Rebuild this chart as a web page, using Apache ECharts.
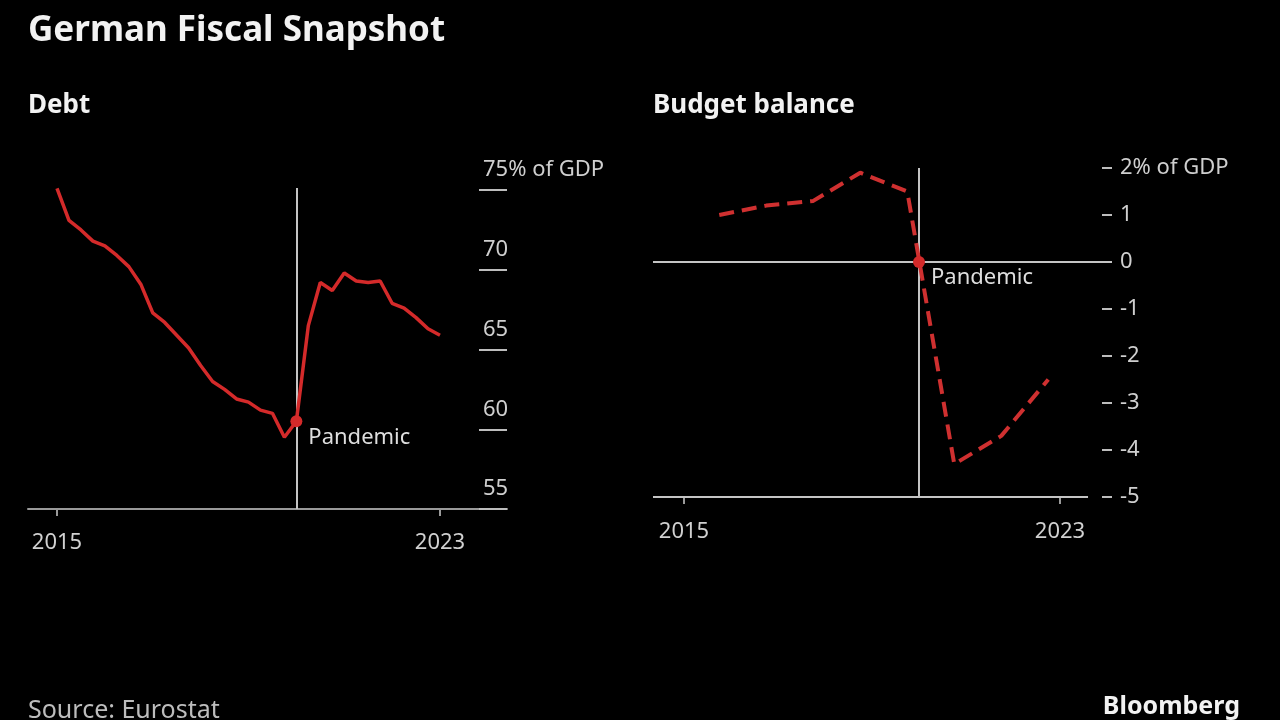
<!DOCTYPE html>
<html lang="en">
<head>
    <meta charset="UTF-8">
    <title>German Fiscal Snapshot</title>
    <script type="text/javascript" src="https://cdn.jsdelivr.net/npm/echarts@6.0.0/dist/echarts.min.js"></script>
    <style>
        html, body { margin: 0; padding: 0; background: #000; }
    </style>
</head>
<body>
<div id="main" style="width: 1280px;height: 720px"></div>

<script>

    // debt, % of GDP, quarterly
    var debtQuarters = ['2015Q1', '2015Q2', '2015Q3', '2015Q4', '2016Q1', '2016Q2', '2016Q3', '2016Q4',
        '2017Q1', '2017Q2', '2017Q3', '2017Q4', '2018Q1', '2018Q2', '2018Q3', '2018Q4',
        '2019Q1', '2019Q2', '2019Q3', '2019Q4', '2020Q1', '2020Q2', '2020Q3', '2020Q4',
        '2021Q1', '2021Q2', '2021Q3', '2021Q4', '2022Q1', '2022Q2', '2022Q3', '2022Q4', '2023Q1'];
    var debtValues = [75.1, 73.1, 72.5, 71.8, 71.5, 70.9, 70.2, 69.1,
        67.3, 66.7, 65.9, 65.1, 64.0, 63.0, 62.5, 61.9,
        61.7, 61.2, 61.0, 59.5, 60.5, 66.5, 69.2, 68.7,
        69.8, 69.3, 69.2, 69.3, 67.9, 67.6, 67.0, 66.3, 65.9];

    // budget balance, % of GDP, annual (plotted at Q4 of each year)
    var budgetYears = [2015, 2016, 2017, 2018, 2019, 2020, 2021, 2022];
    var budgetValues = [1.0, 1.2, 1.3, 1.9, 1.5, -4.3, -3.7, -2.5];

    var yearLabels = [2015, 2023];
    var debtTicks = [55, 60, 65, 70, 75];
    var pandemicYear = 2020;
    var pandemicDebt = 60.5;
    var pandemicBudget = 0;

    function quarterToYear(q) {
        return parseInt(q.slice(0, 4)) + (parseInt(q.slice(5)) - 1) / 4;
    }

    var debtData = debtQuarters.map(function (q, i) {
        return [quarterToYear(q), debtValues[i]];
    });
    var budgetData = budgetYears.map(function (y, i) {
        return [y + 0.75, budgetValues[i]];
    });

    var font = 'Noto Sans';
    var red = '#d42a2a';
    var grey = '#bdbdbd';

    var chartDom = document.getElementById('main');
    var myChart = echarts.init(chartDom);
    var option;

    var pandemicLabel = {
        show: true,
        formatter: 'Pandemic',
        position: 'right',
        distance: 6,
        offset: [0, 16],
        color: '#dedede',
        fontFamily: font,
        fontSize: 22
    };

    function yearFmt(v) { return String(Math.round(v)); }

    option = {
        backgroundColor: '#000',
        animation: false,
        textStyle: { fontFamily: font },
        title: [
            { text: 'German Fiscal Snapshot', left: 28, top: 14, padding: 0,
              textStyle: { color: '#f2f2f2', fontSize: 35, fontWeight: 'bold', fontFamily: font } },
            { text: 'Debt', left: 28, top: 93, padding: 0,
              textStyle: { color: '#f2f2f2', fontSize: 26, fontWeight: 'bold', fontFamily: font } },
            { text: 'Budget balance', left: 653, top: 93, padding: 0,
              textStyle: { color: '#f2f2f2', fontSize: 26, fontWeight: 'bold', fontFamily: font } },
            { text: 'Source: Eurostat', left: 28, top: 698, padding: 0,
              textStyle: { color: grey, fontSize: 25, fontWeight: 'normal', fontFamily: font } },
            { text: 'Bloomberg', right: 40, top: 694, padding: 0,
              textStyle: { color: '#f2f2f2', fontSize: 25, fontWeight: 'bold', fontFamily: font } }
        ],
        grid: [
            { left: 28, right: 773, top: 188, bottom: 211 },
            { left: 653, right: 168, top: 168, bottom: 223 }
        ],
        xAxis: [
            {
                type: 'value', gridIndex: 0,
                min: 2014.394, max: 2024.4,
                splitLine: { show: false },
                axisLine: { show: true, onZero: false, lineStyle: { color: '#9a9a9a', width: 2 } },
                axisTick: { show: true, customValues: yearLabels, length: 7, lineStyle: { color: '#9a9a9a', width: 2 } },
                axisLabel: { customValues: yearLabels, formatter: yearFmt, margin: 23, color: '#d0d0d0', fontSize: 22, fontFamily: font }
            },
            {
                type: 'value', gridIndex: 1,
                min: 2014.34, max: 2024.106,
                splitLine: { show: false },
                axisLine: { show: false, onZero: false },
                axisTick: { show: true, customValues: yearLabels, length: 7, lineStyle: { color: '#9a9a9a', width: 2 } },
                axisLabel: { customValues: yearLabels, formatter: yearFmt, margin: 24, color: '#d0d0d0', fontSize: 22, fontFamily: font }
            }
        ],
        yAxis: [
            {
                type: 'value', gridIndex: 0, position: 'right',
                min: 55, max: 75.13,
                splitLine: { show: false },
                axisLine: { show: false },
                axisTick: { show: true, inside: true, length: 28, customValues: debtTicks,
                            lineStyle: { color: '#bdbdbd', width: 2 } },
                axisLabel: {
                    customValues: debtTicks,
                    margin: -24, align: 'left', verticalAlign: 'bottom', padding: [0, 0, 9, 0],
                    color: '#cfcfcf', fontSize: 22, fontFamily: font,
                    formatter: function (v) { return v === 75 ? '75% of GDP' : String(v); }
                }
            },
            {
                type: 'value', gridIndex: 1, position: 'right',
                min: -5, max: 2, interval: 1,
                splitLine: { show: false },
                axisLine: { show: false },
                axisTick: { show: true, inside: true, length: 10, lineStyle: { color: '#bdbdbd', width: 2 } },
                axisLabel: {
                    margin: 8, color: '#cfcfcf', fontSize: 22, fontFamily: font,
                    formatter: function (v) { return v === 2 ? '2% of GDP' : String(v); }
                }
            }
        ],
        series: [
            {
                name: 'Debt',
                type: 'line',
                xAxisIndex: 0, yAxisIndex: 0,
                data: debtData,
                showSymbol: false,
                clip: false,
                z: 3,
                lineStyle: { color: red, width: 3.5 },
                markLine: {
                    silent: true, symbol: 'none', z: 2,
                    label: { show: false },
                    lineStyle: { color: '#c4c4c4', width: 2, type: 'solid' },
                    data: [{ xAxis: pandemicYear }]
                },
                markPoint: {
                    symbol: 'circle', symbolSize: 12,
                    itemStyle: { color: red },
                    label: pandemicLabel,
                    data: [{ coord: [pandemicYear, pandemicDebt] }]
                }
            },
            {
                name: 'Budget balance',
                type: 'line',
                xAxisIndex: 1, yAxisIndex: 1,
                data: budgetData,
                showSymbol: false,
                clip: false,
                z: 3,
                lineStyle: { color: '#cf3030', width: 4, type: [15, 8] },
                markLine: {
                    silent: true, symbol: 'none', z: 2,
                    label: { show: false },
                    lineStyle: { color: '#c4c4c4', width: 2, type: 'solid' },
                    data: [
                        { xAxis: pandemicYear },
                        { yAxis: 0 },
                        [{ coord: [2014.34, -5] }, { coord: [2023.596, -5] }]
                    ]
                },
                markPoint: {
                    symbol: 'circle', symbolSize: 12,
                    itemStyle: { color: red },
                    label: pandemicLabel,
                    data: [{ coord: [pandemicYear, pandemicBudget] }]
                }
            }
        ]
    };

    myChart.setOption(option);

</script>
</body>
</html>
